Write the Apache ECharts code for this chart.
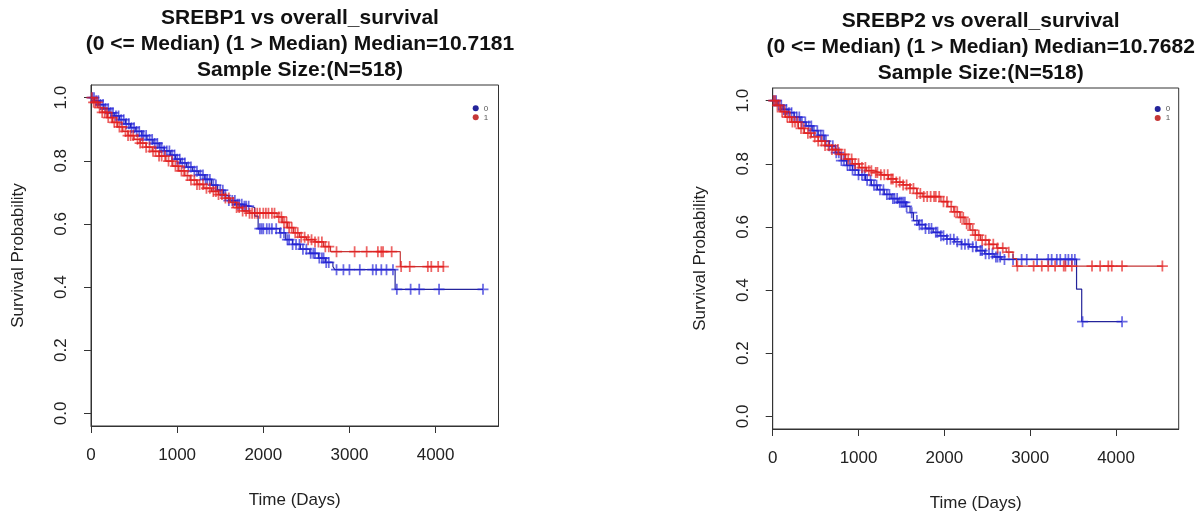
<!DOCTYPE html>
<html><head><meta charset="utf-8">
<script src="https://cdn.jsdelivr.net/npm/echarts@6/dist/echarts.min.js"></script>
<style>html,body{margin:0;padding:0;background:#fff}#c{width:1201px;height:519px}</style>
</head><body><div id="c"></div>
<script>
// ---------- data ----------
const xTicks = [0, 1000, 2000, 3000, 4000];
const yTicks = [0, 0.2, 0.4, 0.6, 0.8, 1.0];
const groupNames = ['0', '1'];
const title1 = 'SREBP1 vs overall_survival\n(0 <= Median) (1 > Median) Median=10.7181\nSample Size:(N=518)';
const title2 = 'SREBP2 vs overall_survival\n(0 <= Median) (1 > Median) Median=10.7682\nSample Size:(N=518)';
const xName = 'Time (Days)';
const yName = 'Survival Probability';

// KM steps [time, survival] ; censor times
const p1g0Steps = [[0,1.0],[40,0.99],[90,0.978],[150,0.965],[210,0.952],[270,0.942],[330,0.93],[400,0.917],[460,0.905],[520,0.893],[590,0.88],[650,0.867],[720,0.855],[790,0.842],[850,0.831],[920,0.818],[980,0.805],[1040,0.793],[1110,0.78],[1180,0.767],[1250,0.755],[1320,0.741],[1400,0.723],[1470,0.707],[1540,0.69],[1600,0.674],[1680,0.662],[1760,0.656],[1840,0.652],[1900,0.625],[1940,0.585],[2190,0.572],[2260,0.55],[2340,0.535],[2430,0.52],[2540,0.507],[2640,0.492],[2720,0.478],[2808,0.465],[2830,0.455],[3530,0.393],[4550,0.393]];
const p1g0Censor = [15,35,60,85,110,140,170,200,230,255,290,320,350,380,410,440,470,500,530,560,590,610,640,680,710,740,770,800,820,850,880,910,940,970,1000,1030,1060,1090,1130,1160,1200,1230,1270,1300,1330,1350,1380,1420,1450,1500,1530,1560,1600,1640,1670,1700,1720,1750,1780,1800,1830,1960,1980,2000,2040,2070,2100,2150,2200,2240,2280,2300,2340,2380,2420,2460,2500,2550,2580,2600,2650,2680,2700,2730,2760,2850,2930,3000,3120,3270,3310,3370,3430,3505,3550,3710,3810,4040,4550];
const p1g1Steps = [[0,1.0],[30,0.985],[80,0.968],[130,0.953],[190,0.937],[250,0.922],[310,0.907],[370,0.893],[430,0.88],[500,0.868],[570,0.856],[640,0.843],[710,0.83],[790,0.815],[870,0.799],[950,0.783],[1020,0.768],[1090,0.753],[1150,0.739],[1230,0.725],[1310,0.713],[1400,0.703],[1480,0.693],[1560,0.682],[1620,0.668],[1690,0.652],[1760,0.641],[1840,0.634],[2160,0.622],[2220,0.605],[2280,0.588],[2350,0.572],[2420,0.558],[2500,0.55],[2600,0.543],[2700,0.528],[2780,0.512],[3590,0.465],[4100,0.465]];
const p1g1Censor = [10,30,50,75,100,130,160,185,200,240,270,300,330,360,400,430,460,490,540,570,600,640,680,720,750,790,820,860,900,940,980,1010,1050,1080,1120,1160,1200,1230,1260,1300,1340,1380,1420,1450,1480,1520,1560,1600,1650,1690,1720,1760,1800,1840,1870,1900,1930,1960,2000,2030,2060,2100,2130,2180,2210,2240,2270,2300,2330,2370,2400,2440,2480,2520,2560,2600,2640,2680,2720,2760,2850,3060,3200,3330,3370,3390,3490,3600,3700,3910,3950,4030,4090];
const p2g0Steps = [[0,1.0],[60,0.985],[120,0.972],[180,0.962],[250,0.948],[320,0.932],[390,0.92],[460,0.905],[530,0.89],[600,0.872],[660,0.857],[730,0.835],[800,0.81],[860,0.795],[930,0.78],[1000,0.765],[1080,0.748],[1150,0.732],[1220,0.718],[1300,0.703],[1380,0.69],[1460,0.678],[1550,0.665],[1600,0.645],[1640,0.62],[1700,0.607],[1780,0.595],[1870,0.583],[1950,0.572],[2030,0.561],[2120,0.553],[2200,0.545],[2290,0.537],[2380,0.525],[2470,0.515],[2580,0.505],[2660,0.497],[3540,0.403],[3600,0.3],[4070,0.3]];
const p2g0Censor = [15,40,70,100,130,160,190,220,250,280,310,340,380,420,450,480,520,560,590,620,660,700,740,770,800,830,870,900,930,960,1000,1040,1070,1100,1140,1180,1210,1250,1290,1330,1360,1400,1420,1450,1480,1500,1520,1540,1560,1620,1680,1710,1740,1780,1820,1850,1900,1920,1960,1990,2030,2070,2110,2150,2200,2240,2280,2330,2370,2420,2440,2480,2520,2560,2600,2620,2650,2700,2800,2900,2960,3080,3210,3250,3310,3350,3410,3445,3485,3520,3610,4070];
const p2g1Steps = [[0,1.0],[40,0.985],[90,0.965],[150,0.948],[220,0.932],[300,0.912],[370,0.897],[450,0.885],[530,0.872],[610,0.858],[690,0.845],[770,0.83],[850,0.815],[930,0.8],[1010,0.788],[1090,0.778],[1170,0.772],[1260,0.765],[1350,0.752],[1440,0.742],[1520,0.733],[1600,0.722],[1680,0.706],[1750,0.696],[1960,0.68],[2040,0.664],[2110,0.648],[2180,0.63],[2240,0.61],[2300,0.59],[2360,0.574],[2420,0.558],[2520,0.545],[2610,0.533],[2720,0.52],[2800,0.5],[2840,0.476],[4550,0.476]];
const p2g1Censor = [10,30,55,80,110,140,170,200,230,260,290,330,360,410,440,490,530,570,610,650,690,730,760,800,840,880,920,960,1000,1040,1080,1120,1150,1200,1220,1260,1300,1340,1380,1400,1440,1480,1520,1560,1600,1640,1680,1720,1760,1800,1840,1880,1900,1940,1990,2030,2080,2120,2150,2190,2220,2260,2290,2330,2360,2400,2440,2480,2520,2570,2620,2680,2750,2850,3040,3135,3210,3290,3390,3410,3485,3720,3815,3910,3950,4070,4540];

// ---------- styling ----------
const lineColors = ['#24249a', '#c53636'];
const markColors = ['rgba(35,35,215,0.85)', 'rgba(228,30,30,0.85)'];
const plusPath = 'path://M4.2,0H5.8V4.2H10V5.8H5.8V10H4.2V5.8H0V4.2H4.2Z';
const font = 'Liberation Sans, Arial, Helvetica, sans-serif';

function survAt(steps, t) {
  let s = steps[0][1];
  for (const [ti, si] of steps) { if (ti <= t) s = si; else break; }
  return s;
}

const grids = [
  { left: 91, top: 85, width: 407.5, height: 341 },
  { left: 772.7, top: 88, width: 406, height: 341 }
];
const titleCfg = [
  { text: title1, cx: 295, top: 0 },
  { text: title2, cx: 975.7, top: 3.5 }
];
const legendPos = [{ left: 467.7, top: 98.8 }, { left: 1149.7, top: 99.5 }];
const plots = [
  [[p1g0Steps, p1g0Censor], [p1g1Steps, p1g1Censor]],
  [[p2g0Steps, p2g0Censor], [p2g1Steps, p2g1Censor]]
];

const option = {
  animation: false,
  backgroundColor: '#fff',
  textStyle: { fontFamily: font },
  title: titleCfg.map(t => ({
    text: t.text, left: t.cx, top: t.top, textAlign: 'center',
    textStyle: { fontFamily: font, fontSize: 21, fontWeight: 'bold', color: '#111', lineHeight: 26 }
  })),
  legend: legendPos.map(p => ({
    left: p.left, top: p.top, orient: 'vertical', icon: 'circle',
    itemWidth: 6, itemHeight: 6, itemGap: 0, selectedMode: false,
    textStyle: { fontSize: 8, color: '#555', lineHeight: 9, fontFamily: font },
    data: groupNames.map((n, i) => ({ name: n, itemStyle: { color: lineColors[i] } }))
  })),
  grid: grids.map(g => Object.assign({ show: true, borderColor: '#333', borderWidth: 1, backgroundColor: 'transparent' }, g)),
  xAxis: grids.map((g, i) => ({
    gridIndex: i, type: 'value', min: 0, max: 4730,
    axisLine: { show: true, onZero: false, lineStyle: { color: '#333', width: 1 } },
    axisTick: { show: true, length: 7, lineStyle: { color: '#333' }, customValues: xTicks },
    axisLabel: { customValues: xTicks, fontSize: 17, color: '#222', margin: 21, fontFamily: font,
      formatter: v => String(v) },
    splitLine: { show: false },
    name: xName, nameLocation: 'middle', nameGap: 66,
    nameTextStyle: { fontSize: 17, color: '#222', fontFamily: font }
  })),
  yAxis: grids.map((g, i) => ({
    gridIndex: i, type: 'value', min: -0.04, max: 1.04,
    axisLine: { show: true, onZero: false, lineStyle: { color: '#333', width: 1 } },
    axisTick: { show: true, length: 7, lineStyle: { color: '#333' }, customValues: yTicks },
    axisLabel: { customValues: yTicks, rotate: 90, fontSize: 17, color: '#222', margin: 21, fontFamily: font,
      formatter: v => Number(v).toFixed(1) },
    splitLine: { show: false },
    name: yName, nameLocation: 'middle', nameGap: 64, nameRotate: 90,
    nameTextStyle: { fontSize: 17, color: '#222', fontFamily: font }
  })),
  series: []
};

plots.forEach((groups, pi) => {
  groups.forEach(([steps, censor], gi) => {
    option.series.push({
      name: groupNames[gi], type: 'line', step: 'end',
      xAxisIndex: pi, yAxisIndex: pi,
      data: steps, showSymbol: false, symbol: 'none',
      itemStyle: { color: lineColors[gi] },
      lineStyle: { color: lineColors[gi], width: 1.2 },
      z: 2 + gi * 2
    });
    option.series.push({
      name: groupNames[gi], type: 'scatter',
      xAxisIndex: pi, yAxisIndex: pi,
      data: censor.map(t => [t, survAt(steps, t)]),
      symbol: plusPath, symbolSize: 11,
      itemStyle: { color: markColors[gi] },
      z: 3 + gi * 2
    });
  });
});

const chart = echarts.init(document.getElementById('c'), null, { renderer: 'canvas' });
chart.setOption(option);
</script>
</body></html>
